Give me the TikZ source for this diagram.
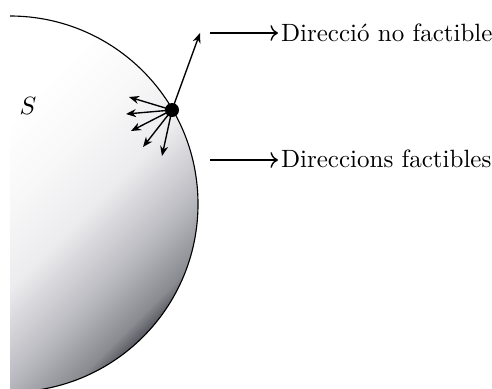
\documentclass[tikz,border=0pt]{standalone}
\usetikzlibrary{arrows.meta}
\definecolor{sA}{RGB}{80,80,88}
\definecolor{sB}{RGB}{90,90,98}
\definecolor{sC}{RGB}{138,138,145}
\definecolor{sD}{RGB}{184,184,191}
\definecolor{sE}{RGB}{236,236,238}
\definecolor{sF}{RGB}{248,248,249}
\pgfdeclareverticalshading{setshade}{100bp}{color(0bp)=(sA); color(25bp)=(sB); color(27bp)=(sC); color(33bp)=(sD); color(42bp)=(sE); color(50bp)=(sF); color(58bp)=(white); color(100bp)=(white)}
\tikzset{
  dirarrow/.style={line width=0.55pt, -{Stealth[length=4pt, width=3.2pt]}},
  labarrow/.style={line width=0.55pt, -{To[length=3pt]}},
  lab/.style={anchor=base west, inner sep=1pt},
}
\begin{document}
\begin{tikzpicture}[x=0.4pt, y=-0.4pt]
\useasboundingbox (0,0) rectangle (492,388);
\begin{scope}
  \clip (10,0) rectangle (492,388);
  \shade[shading=setshade, shading angle=45] (10,204) circle[radius=188];
  \draw[line width=0.45pt] (10,204) circle[radius=188];
\end{scope}
\node (S) at (28,106) {$S$};
\node[circle, fill=black, inner sep=0pt, minimum size=5.6pt] (P) at (172,110) {};
\coordinate (nf) at (200,33);
\coordinate (f1) at (129,97);
\coordinate (f2) at (126,114);
\coordinate (f3) at (131,131);
\coordinate (f4) at (143,147);
\coordinate (f5) at (162,156);
\foreach \t in {nf,f1,f2,f3,f4,f5} \draw[dirarrow] (P.center) -- (\t);
\node[lab] (t1) at (278,41) {Direcció no factible};
\node[lab] (t2) at (278,167) {Direccions factibles};
\coordinate (a1) at (210,33);
\coordinate (a2) at (210,160);
\draw[labarrow] (a1) -- (a1 -| t1.west);
\draw[labarrow] (a2) -- (a2 -| t2.west);
\end{tikzpicture}
\end{document}
